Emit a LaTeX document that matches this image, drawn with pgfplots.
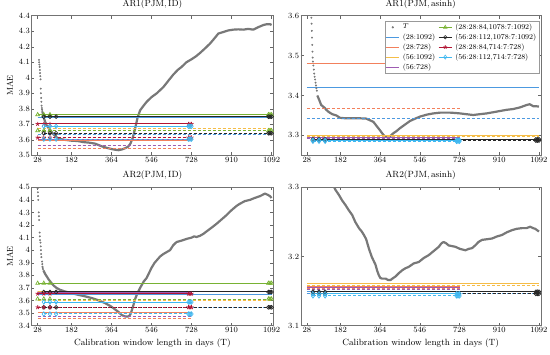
\documentclass[border=0pt]{standalone}
\usepackage{fontspec}
\usepackage{pgfplots}
\pgfplotsset{compat=1.18}
\usetikzlibrary{plotmarks}

\definecolor{cBlue}{rgb}{0.30,0.60,0.88}
\definecolor{cOrange}{rgb}{0.95,0.50,0.36}
\definecolor{cYellow}{rgb}{0.96,0.74,0.28}
\definecolor{cPurple}{rgb}{0.62,0.36,0.70}
\definecolor{cGreen}{rgb}{0.47,0.70,0.20}
\definecolor{cBlack}{rgb}{0.15,0.15,0.15}
\definecolor{cRed}{rgb}{0.70,0.08,0.20}
\definecolor{cCyan}{rgb}{0.25,0.72,0.94}
\definecolor{cCurve}{rgb}{0.47,0.47,0.47}

\pgfplotsset{
  panel/.style={scale only axis, xmin=0, xmax=1100,
    xtick={28,182,364,546,728,910,1092},
    tick align=inside, major tick length=3pt,
    axis line style={black!55, line width=0.4pt},
    every tick/.style={black!60, line width=0.4pt},
    tick label style={font=\fontsize{8.5}{10}\selectfont},
    xticklabel style={inner sep=1.5pt, /pgf/number format/1000 sep={}},
    yticklabel style={inner sep=1.5pt, /pgf/number format/fixed},
    scaled y ticks=false,
    title style={font=\fontsize{9}{10}\selectfont, at={(0.5,1)}, anchor=south, inner sep=1pt},
    label style={font=\fontsize{9}{10}\selectfont},
    ylabel style={at={(axis description cs:-0.09,0.5)}, anchor=center, font=\fontsize{8.5}{10}\selectfont},
    xlabel style={at={(axis description cs:0.5,-0.124)}, anchor=center},
  },
  sol/.style={line width=1.05pt},
  das/.style={line width=1pt, dash pattern=on 3pt off 2pt},
  curve/.style={cCurve, line width=2.2pt, line join=round},
  dots/.style={cCurve, only marks, mark=*, mark size=0.75pt},
}
\newcommand{\hl}[4]{\addplot[#1] coordinates {(#2,#4) (#3,#4)};}
\newcommand{\tri}[2]{\addplot[cGreen,#1,mark=triangle,mark size=2.2pt,mark options={solid,line width=0.7pt}] coordinates {(28,#2)(56,#2)(84,#2)(1078,#2)(1085,#2)(1092,#2)};}
\newcommand{\cir}[2]{\addplot[cBlack,#1,mark=o,mark size=1.9pt,mark options={solid,line width=0.7pt}] coordinates {(56,#2)(84,#2)(112,#2)(1078,#2)(1085,#2)(1092,#2)};}
\newcommand{\sta}[2]{\addplot[cRed,#1,mark=star,mark size=2.2pt,mark options={solid,line width=0.7pt}] coordinates {(28,#2)(56,#2)(84,#2)(714,#2)(721,#2)(728,#2)};}
\newcommand{\dia}[2]{\addplot[cCyan,#1,mark=diamond,mark size=2.2pt,mark options={solid,line width=0.7pt}] coordinates {(56,#2)(84,#2)(112,#2)(714,#2)(721,#2)(728,#2)};}

\begin{document}
\begin{tikzpicture}
\path[use as bounding box] (0,0) rectangle (550pt,355pt);

% ---------------- Top left: AR1(PJM, ID)
\begin{axis}[panel, at={(31.5pt,199.7pt)}, anchor=south west, width=241.8pt, height=139.6pt,
  ymin=3.5, ymax=4.4, ytick={3.5,3.6,3.7,3.8,3.9,4,4.1,4.2,4.3,4.4},
  title={AR1(PJM,\,ID)}, ylabel={MAE}]
\addplot[dots] coordinates {(34,4.115)(35,4.10)(36,4.085)(37,4.07)(38,4.05)(39,4.03)(40,4.01)(41,3.99)(42,3.93)(43,3.90)(44,3.87)(45,3.845)(46,3.82)(47,3.805)(48,3.795)(49,3.785)};
\addplot[curve] coordinates {(50,3.78)(55,3.745)(61,3.72)(70,3.69)(84,3.665)(100,3.635)(115,3.615)(130,3.605)(150,3.60)(183,3.594)(210,3.592)(236,3.585)(260,3.582)(290,3.575)(319,3.558)(345,3.547)(365,3.54)(380,3.536)(395,3.533)(410,3.537)(425,3.545)(440,3.556)(450,3.575)(460,3.61)(471,3.67)(482,3.74)(494,3.79)(510,3.82)(524,3.845)(546,3.875)(570,3.90)(600,3.94)(625,3.985)(645,4.02)(665,4.05)(683,4.07)(705,4.10)(729,4.12)(750,4.14)(767,4.16)(790,4.19)(812,4.22)(830,4.25)(850,4.285)(873,4.295)(895,4.305)(918,4.31)(940,4.312)(964,4.31)(985,4.315)(1009,4.31)(1030,4.325)(1055,4.34)(1070,4.345)(1085,4.345)(1092,4.34)};
\hl{cBlue,sol}{28}{1092}{3.745}
\hl{cBlue,das}{28}{1092}{3.636}
\hl{cOrange,sol}{28}{728}{3.594}
\hl{cOrange,das}{28}{728}{3.547}
\hl{cYellow,sol}{28}{1092}{3.760}
\hl{cYellow,das}{28}{1092}{3.672}
\hl{cPurple,sol}{28}{728}{3.604}
\hl{cPurple,das}{28}{728}{3.566}
\tri{sol}{3.762}
\tri{das}{3.659}
\cir{sol}{3.749}
\cir{das}{3.642}
\sta{sol}{3.702}
\sta{das}{3.614}
\dia{sol}{3.687}
\dia{das}{3.604}
\end{axis}

% ---------------- Top right: AR1(PJM, asinh)
\begin{axis}[panel, at={(300.7pt,199.7pt)}, anchor=south west, width=240pt, height=139.6pt,
  ymin=3.25, ymax=3.6, ytick={3.3,3.4,3.5,3.6},
  title={AR1(PJM,\,asinh)},
  legend columns=2,
  legend cell align=left,
  legend style={at={(0.995,0.965)}, anchor=north east, draw=black!40, line width=0.4pt,
    font=\fontsize{7.5}{8.5}\selectfont, inner sep=1pt, row sep=-1.2pt, column sep=1pt},
  legend image code/.code={\draw[mark repeat=2,mark phase=2,#1] plot coordinates {(0cm,0cm) (0.23cm,0cm) (0.46cm,0cm)};}]
\addlegendimage{only marks, mark=*, mark size=0.9pt, cCurve}
\addlegendentry{$T$}
\addlegendimage{cGreen, line width=1.05pt, mark=triangle, mark size=2pt, mark options={line width=0.6pt}}
\addlegendentry{(28:28:84,1078:7:1092)}
\addlegendimage{cBlue, line width=1.05pt}
\addlegendentry{(28:1092)}
\addlegendimage{cBlack, line width=1.05pt, mark=o, mark size=1.7pt, mark options={line width=0.6pt}}
\addlegendentry{(56:28:112,1078:7:1092)}
\addlegendimage{cOrange, line width=1.05pt}
\addlegendentry{(28:728)}
\addlegendimage{cRed, line width=1.05pt, mark=star, mark size=2pt, mark options={line width=0.6pt}}
\addlegendentry{(28:28:84,714:7:728)}
\addlegendimage{cYellow, line width=1.05pt}
\addlegendentry{(56:1092)}
\addlegendimage{cCyan, line width=1.05pt, mark=diamond, mark size=2pt, mark options={line width=0.6pt}}
\addlegendentry{(56:28:112,714:7:728)}
\addlegendimage{cPurple, line width=1.05pt}
\addlegendentry{(56:728)}
\addplot[dots] coordinates {(49,3.595)(50,3.58)(51,3.562)(52,3.545)(53,3.527)(54,3.51)(55,3.495)(56,3.485)(58,3.475)(60,3.465)(62,3.455)(64,3.447)(66,3.44)(68,3.432)(70,3.425)(72,3.418)(74,3.412)};
\addplot[curve] coordinates {(76,3.40)(84,3.39)(94,3.376)(103,3.372)(110,3.369)(117,3.364)(130,3.358)(145,3.353)(163,3.35)(180,3.344)(200,3.343)(225,3.343)(260,3.343)(300,3.342)(333,3.334)(350,3.322)(363,3.313)(375,3.304)(386,3.297)(401,3.295)(412,3.299)(424,3.305)(440,3.311)(455,3.318)(478,3.327)(501,3.336)(525,3.342)(547,3.347)(578,3.352)(608,3.355)(640,3.357)(684,3.357)(710,3.356)(730,3.355)(760,3.353)(791,3.351)(820,3.353)(852,3.355)(883,3.358)(913,3.361)(944,3.364)(974,3.366)(1005,3.37)(1035,3.376)(1050,3.378)(1066,3.373)(1080,3.373)(1092,3.372)};
\hl{cBlue,sol}{28}{1092}{3.421}
\hl{cBlue,das}{28}{1092}{3.341}
\hl{cOrange,sol}{28}{728}{3.480}
\hl{cOrange,das}{28}{728}{3.368}
\hl{cYellow,sol}{28}{1092}{3.300}
\hl{cYellow,das}{28}{1092}{3.298}
\hl{cPurple,sol}{28}{728}{3.295}
\hl{cPurple,das}{28}{728}{3.292}
\cir{sol}{3.290}
\cir{das}{3.287}
\dia{sol}{3.288}
\dia{das}{3.285}
\end{axis}

% ---------------- Bottom left: AR2(PJM, ID)
\begin{axis}[panel, at={(31.5pt,29.3pt)}, anchor=south west, width=241.8pt, height=138.4pt,
  ymin=3.4, ymax=4.5, ytick={3.4,3.5,3.6,3.7,3.8,3.9,4,4.1,4.2,4.3,4.4,4.5},
  title={AR2(PJM,\,ID)}, ylabel={MAE}, xlabel={Calibration window length in days (T)}]
\addplot[dots] coordinates {(28,4.49)(29,4.46)(30,4.43)(31,4.40)(33,4.30)(34,4.27)(35,4.24)(37,4.14)(38,4.11)(39,4.08)(41,4.06)(42,4.03)(43,4.00)(44,3.97)(45,3.945)(48,3.91)(49,3.89)(50,3.87)(51,3.86)(52,3.85)};
\addplot[curve] coordinates {(54,3.84)(57,3.83)(61,3.815)(66,3.80)(72,3.785)(77,3.77)(85,3.752)(92,3.737)(100,3.72)(114,3.70)(130,3.685)(152,3.672)(180,3.66)(213,3.645)(240,3.635)(274,3.62)(300,3.605)(334,3.58)(360,3.555)(380,3.53)(395,3.51)(410,3.485)(425,3.474)(440,3.472)(450,3.49)(456,3.52)(463,3.56)(471,3.61)(480,3.65)(494,3.70)(510,3.75)(524,3.78)(546,3.86)(560,3.90)(585,3.95)(600,3.97)(615,3.985)(630,4.00)(645,4.04)(660,4.065)(680,4.075)(706,4.09)(728,4.10)(740,4.11)(751,4.105)(767,4.115)(782,4.13)(797,4.15)(820,4.18)(842,4.21)(865,4.245)(888,4.28)(905,4.31)(918,4.33)(935,4.355)(949,4.37)(970,4.39)(994,4.40)(1015,4.415)(1040,4.43)(1062,4.45)(1075,4.44)(1085,4.43)(1092,4.415)};
\hl{cBlue,sol}{28}{1092}{3.650}
\hl{cBlue,das}{28}{1092}{3.546}
\hl{cOrange,sol}{28}{728}{3.505}
\hl{cOrange,das}{28}{728}{3.455}
\hl{cYellow,sol}{28}{1092}{3.670}
\hl{cYellow,das}{28}{1092}{3.599}
\hl{cPurple,sol}{28}{728}{3.660}
\hl{cPurple,das}{28}{728}{3.472}
\tri{sol}{3.737}
\tri{das}{3.612}
\cir{sol}{3.668}
\cir{das}{3.546}
\sta{sol}{3.654}
\sta{das}{3.546}
\dia{sol}{3.588}
\dia{das}{3.493}
\end{axis}

% ---------------- Bottom right: AR2(PJM, asinh)
\begin{axis}[panel, at={(300.7pt,29.3pt)}, anchor=south west, width=240pt, height=138.4pt,
  ymin=3.1, ymax=3.3, ytick={3.1,3.2,3.3},
  title={AR2(PJM,\,asinh)}, xlabel={Calibration window length in days (T)}]
\addplot[curve] coordinates {(145,3.305)(160,3.296)(175,3.289)(190,3.281)(206,3.274)(220,3.267)(236,3.26)(250,3.25)(267,3.241)(280,3.236)(290,3.231)(300,3.225)(312,3.212)(325,3.20)(343,3.188)(350,3.18)(358,3.173)(365,3.169)(373,3.168)(390,3.168)(400,3.166)(412,3.166)(420,3.168)(434,3.171)(450,3.176)(465,3.18)(480,3.183)(495,3.185)(518,3.19)(541,3.192)(565,3.198)(587,3.202)(610,3.208)(633,3.214)(645,3.219)(655,3.221)(667,3.219)(678,3.216)(694,3.215)(709,3.214)(730,3.211)(755,3.209)(770,3.211)(785,3.212)(800,3.216)(815,3.221)(831,3.224)(855,3.225)(877,3.226)(900,3.229)(922,3.231)(945,3.235)(968,3.238)(990,3.24)(1014,3.241)(1035,3.241)(1052,3.243)(1065,3.241)(1075,3.24)(1092,3.236)};
\hl{cYellow,sol}{28}{1092}{3.161}
\hl{cYellow,das}{28}{1092}{3.158}
\hl{cOrange,sol}{28}{728}{3.157}
\hl{cOrange,das}{28}{728}{3.154}
\hl{cPurple,sol}{28}{728}{3.155}
\hl{cPurple,das}{28}{728}{3.153}
\hl{cBlue,sol}{28}{1092}{3.150}
\hl{cBlue,das}{28}{1092}{3.147}
\cir{sol}{3.149}
\cir{das}{3.146}
\dia{sol}{3.146}
\dia{das}{3.143}
\end{axis}
\end{tikzpicture}
\end{document}
